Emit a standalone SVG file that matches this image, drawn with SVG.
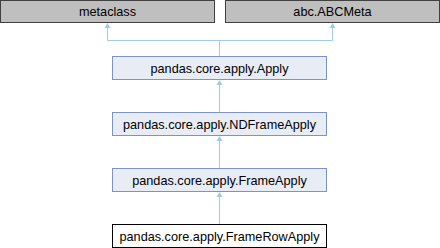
<svg xmlns="http://www.w3.org/2000/svg" width="440" height="248" viewBox="0 0 440 248">
  <defs>
    <style>
      .ext rect { fill: #bfbfbf; stroke: #404040; stroke-width: 1; }
      .cls rect { fill: #e8ecf5; stroke: #7b93c5; stroke-width: 1; }
      .cur rect { fill: #ffffff; stroke: #000000; stroke-width: 1; }
      text { font-family: "Liberation Sans", Arial, sans-serif; font-size: 12.7px; fill: #000000; text-anchor: middle; }
      .edges path { fill: none; stroke: #9ecbe8; stroke-width: 1; }
      .edges polygon { fill: #9ecbe8; stroke: none; }
    </style>
  </defs>

  <!-- inheritance connectors -->
  <g id="edges" class="edges">
    <path d="M219.5,56.5 V40.5 M107.5,40.5 H332.5 M107.5,40.5 V25 M332.5,40.5 V25"/>
    <polygon points="107.5,23 104.5,28 110.5,28"/>
    <polygon points="332.5,23 329.5,28 335.5,28"/>
    <path d="M219.5,112.5 V82"/>
    <polygon points="219.5,80 216.5,85 222.5,85"/>
    <path d="M219.5,168.5 V138"/>
    <polygon points="219.5,136 216.5,141 222.5,141"/>
    <path d="M219.5,224.5 V194"/>
    <polygon points="219.5,192 216.5,197 222.5,197"/>
  </g>

  <g id="metaclass" class="ext">
    <rect x="0.5" y="0.5" width="214" height="22"/>
    <text x="107.5" y="16">metaclass</text>
  </g>

  <g id="abc_ABCMeta" class="ext">
    <rect x="225.5" y="0.5" width="214" height="22"/>
    <text x="332.5" y="16">abc.ABCMeta</text>
  </g>

  <g id="Apply" class="cls">
    <rect x="112.5" y="56.5" width="214" height="23"/>
    <text x="219.5" y="72.5">pandas.core.apply.Apply</text>
  </g>

  <g id="NDFrameApply" class="cls">
    <rect x="112.5" y="112.5" width="214" height="23"/>
    <text x="219.5" y="128.5">pandas.core.apply.NDFrameApply</text>
  </g>

  <g id="FrameApply" class="cls">
    <rect x="112.5" y="168.5" width="214" height="23"/>
    <text x="219.5" y="184.5">pandas.core.apply.FrameApply</text>
  </g>

  <g id="FrameRowApply" class="cur">
    <rect x="112.5" y="224.5" width="214" height="23"/>
    <text x="219.5" y="240.5">pandas.core.apply.FrameRowApply</text>
  </g>
</svg>
